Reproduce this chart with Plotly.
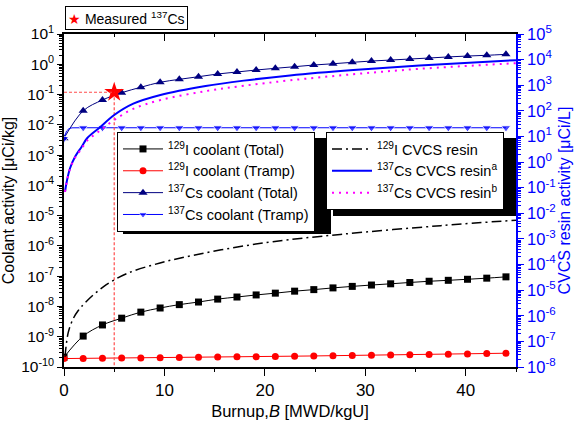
import plotly.graph_objects as go

# ---------------- data ----------------
B_markers = [0.0, 1.91, 3.83, 5.74, 7.65, 9.57, 11.48, 13.39, 15.30, 17.22, 19.13, 21.04,
             22.96, 24.87, 26.78, 28.70, 30.61, 32.52, 34.43, 36.35, 38.26, 40.17, 42.09, 44.00]

I129_total = [2.1e-10, 1.05e-9, 2.45e-9, 4.1e-9, 6.5e-9, 8.9e-9, 1.15e-8, 1.4e-8, 1.75e-8, 2.05e-8,
              2.4e-8, 2.75e-8, 3.2e-8, 3.6e-8, 4.1e-8, 4.6e-8, 5.1e-8, 5.6e-8, 6.2e-8, 6.8e-8,
              7.3e-8, 7.9e-8, 8.6e-8, 9.5e-8]

I129_tramp = [1.9e-10, 1.92e-10, 1.95e-10, 1.97e-10, 2.0e-10, 2.03e-10, 2.06e-10, 2.1e-10, 2.13e-10,
              2.17e-10, 2.2e-10, 2.24e-10, 2.28e-10, 2.32e-10, 2.36e-10, 2.4e-10, 2.45e-10, 2.5e-10,
              2.55e-10, 2.6e-10, 2.65e-10, 2.7e-10, 2.77e-10, 2.85e-10]

Cs_total = [3.6e-3, 0.029, 0.066, 0.115, 0.174, 0.254, 0.318, 0.389, 0.478, 0.556, 0.647, 0.736,
            0.832, 0.946, 1.04, 1.16, 1.28, 1.38, 1.49, 1.61, 1.75, 1.87, 1.98, 2.13]

B_tramp = [0.0, 0.25, 0.5, 0.8, 1.91, 3.83, 5.74, 7.65, 9.57, 11.48, 13.39, 15.30, 17.22, 19.13, 21.04,
           22.96, 24.87, 26.78, 28.70, 30.61, 32.52, 34.43, 36.35, 38.26, 40.17, 42.09, 44.00]
Cs_tramp = [3.5e-3, 6.2e-3, 7.5e-3, 7.95e-3, 8.0e-3, 8.0e-3, 8.0e-3, 8.0e-3, 8.0e-3, 8.0e-3, 8.0e-3,
            8.0e-3, 8.0e-3, 8.0e-3, 8.0e-3, 8.0e-3, 8.0e-3, 8.0e-3, 8.0e-3, 8.0e-3, 8.0e-3, 8.0e-3,
            8.0e-3, 8.0e-3, 8.0e-3, 8.0e-3, 8.0e-3]
Cs_tramp_msize = [8.5, 0, 0, 0, 8.5, 8.5, 8.5, 8.5, 8.5, 8.5, 8.5, 8.5, 8.5, 8.5, 8.5, 8.5, 8.5, 8.5, 8.5,
                  8.5, 8.5, 8.5, 8.5, 8.5, 8.5, 8.5, 8.5]

B_I129_resin = [0.1, 0.43, 0.93, 1.42, 2.09, 3.91, 6.24, 9.56, 12.9, 16.8, 20.8, 27.5, 37.5, 45.0]
I129_resin = [2.5e-8, 2.3e-7, 7.9e-7, 1.6e-6, 3.2e-6, 1.35e-5, 4.4e-5, 1.15e-4, 2.3e-4, 4.5e-4,
              7.8e-4, 1.5e-3, 3.3e-3, 5.4e-3]

B_Cs_resin = [0.1, 0.27, 0.6, 1.1, 1.76, 2.3, 3.5, 5.0, 6.9, 9.6, 14.1, 17.9, 22.5, 28.8, 35.4, 45.0]
Cs_resin_a = [0.069, 0.17, 0.575, 1.62, 3.98, 8.5, 21.5, 69, 191, 417, 933, 1514, 2399, 3890, 5888, 9550]
Cs_resin_b = [0.069, 0.166, 0.55, 1.48, 3.39, 6.9, 16.0, 44, 120, 263, 589, 955, 1549, 2692, 4365, 7244]

measured_B = [5.0]
measured_Cs = [0.119]

x_tickvals = [0, 10, 20, 30, 40]
x_ticktext = ["0", "10", "20", "30", "40"]
left_exp = [-10, -9, -8, -7, -6, -5, -4, -3, -2, -1, 0, 1]
right_exp = [-8, -7, -6, -5, -4, -3, -2, -1, 0, 1, 2, 3, 4, 5]

# ---------------- figure ----------------
FONT = "Liberation Sans, Arial, sans-serif"
fig = go.Figure()

fig.add_trace(go.Scatter(x=B_markers, y=I129_total, mode="lines+markers", name="<sup>129</sup>I coolant (Total)",
                         line=dict(color="black", width=1, shape="spline"),
                         marker=dict(symbol="square", size=7, color="black"), legend="legend2"))
fig.add_trace(go.Scatter(x=B_markers, y=I129_tramp, mode="lines+markers", name="<sup>129</sup>I coolant (Tramp)",
                         line=dict(color="#ff0000", width=1),
                         marker=dict(symbol="circle", size=7, color="#ff0000"), legend="legend2"))
fig.add_trace(go.Scatter(x=B_markers, y=Cs_total, mode="lines+markers", name="<sup>137</sup>Cs coolant (Total)",
                         line=dict(color="#000080", width=1, shape="spline"),
                         marker=dict(symbol="triangle-up", size=8, color="#000080"), legend="legend2"))
fig.add_trace(go.Scatter(x=B_tramp, y=Cs_tramp, mode="lines+markers", name="<sup>137</sup>Cs coolant (Tramp)",
                         line=dict(color="#0000ff", width=1),
                         marker=dict(symbol="triangle-down", size=Cs_tramp_msize, color="#0000ff"),
                         legend="legend2"))

fig.add_trace(go.Scatter(x=B_I129_resin, y=I129_resin, mode="lines", name="<sup>129</sup>I CVCS resin",
                         line=dict(color="black", width=1.5, dash="10px,4px,2px,4px", shape="spline"),
                         yaxis="y2", legend="legend3"))
fig.add_trace(go.Scatter(x=B_Cs_resin, y=Cs_resin_a, mode="lines", name="<sup>137</sup>Cs CVCS resin<sup>a</sup>",
                         line=dict(color="#0000ff", width=2, shape="spline"), yaxis="y2", legend="legend3"))
fig.add_trace(go.Scatter(x=B_Cs_resin, y=Cs_resin_b, mode="lines", name="<sup>137</sup>Cs CVCS resin<sup>b</sup>",
                         line=dict(color="#ff00ff", width=2, dash="2px,5px", shape="spline"), yaxis="y2",
                         legend="legend3"))

# measured point guide lines
fig.add_trace(go.Scatter(x=[0, measured_B[0]], y=[measured_Cs[0], measured_Cs[0]], mode="lines",
                         line=dict(color="#ff4d4d", width=1.2, dash="3px,2px"), showlegend=False,
                         xaxis="x2", hoverinfo="skip"))
fig.add_trace(go.Scatter(x=[measured_B[0], measured_B[0]], y=[measured_Cs[0], 1e-10], mode="lines",
                         line=dict(color="#ff4d4d", width=1.2, dash="3px,2px"), showlegend=False,
                         hoverinfo="skip"))
fig.add_trace(go.Scatter(x=measured_B, y=measured_Cs, mode="markers", name="Measured <sup>137</sup>Cs",
                         marker=dict(symbol="star", size=15, color="#ff0000", line=dict(width=0)),
                         showlegend=False))

W, H = 575, 425
L, R, T, Bm = 64, 59, 34, 58
pw, ph = W - L - R, H - T - Bm


def px2paper(x, y):
    return (x - L) / pw, (H - Bm - y) / ph


shapes = []
for (x0, y0, x1, y1) in [(123, 138, 331, 234), (333, 138, 516, 216)]:
    a0, b1 = px2paper(x0, y0)
    a1, b0 = px2paper(x1, y1)
    shapes.append(dict(type="rect", xref="paper", yref="paper", x0=a0, x1=a1, y0=b0, y1=b1,
                       fillcolor="black", line=dict(width=0), layer="above"))

legend_common = dict(bgcolor="white", bordercolor="black", borderwidth=1, xanchor="left", yanchor="top",
                     font=dict(family=FONT, size=14.5, color="black"), tracegroupgap=0)
lx2, ly2 = px2paper(117, 132)
lx3, ly3 = px2paper(326, 132)
ax1, ay1 = px2paper(65, 6)

fig.add_annotation(xref="paper", yref="paper", x=ax1, y=ay1, xanchor="left", yanchor="top", showarrow=False,
                   text='<span style="color:#ff0000;font-size:14px">★</span> Measured <sup>137</sup>Cs',
                   font=dict(family=FONT, size=14, color="black"), bgcolor="white",
                   bordercolor="black", borderwidth=1, borderpad=2)

fig.update_layout(
    width=W, height=H, margin=dict(l=L, r=R, t=T, b=Bm, autoexpand=False),
    plot_bgcolor="white", paper_bgcolor="white",
    font=dict(family=FONT, size=14, color="black"),
    showlegend=True,
    legend2=dict(x=lx2, y=ly2, itemwidth=40, **legend_common),
    legend3=dict(x=lx3, y=ly3, itemwidth=40, **legend_common),
    shapes=shapes,
    xaxis=dict(range=[0, 45], automargin=False, showgrid=False, zeroline=False, showline=True, linecolor="black",
               linewidth=1.5, ticks="outside", ticklen=7, tickwidth=1, tickcolor="black",
               tickvals=x_tickvals, ticktext=x_ticktext, tickfont=dict(size=17),
               minor=dict(tickvals=[5, 15, 25, 35, 45], ticks="outside", ticklen=3, tickcolor="black", showgrid=False),
               title=dict(text="Burnup,<i>B</i> [MWD/kgU]", font=dict(size=16.5), standoff=6)),
    xaxis2=dict(range=[0, 45], automargin=False, overlaying="x", side="top", showgrid=False, zeroline=False,
                showline=True, linecolor="black", linewidth=1.5, ticks="inside", ticklen=7, tickcolor="black",
                tickvals=x_tickvals, showticklabels=False,
                minor=dict(tickvals=[5, 15, 25, 35, 45], ticks="inside", ticklen=3, tickcolor="black", showgrid=False)),
    yaxis=dict(type="log", range=[-10, 1], automargin=False, showgrid=False, zeroline=False, showline=True,
               linecolor="black", linewidth=1.5, ticks="outside", ticklen=5, tickcolor="black",
               tickvals=[10.0 ** e for e in left_exp], ticktext=[f"10<sup>{e}</sup>" for e in left_exp],
               tickfont=dict(size=15.5),
               minor=dict(dtick="D1", ticks="outside", ticklen=3, tickcolor="black", showgrid=False),
               title=dict(text="Coolant activity [μCi/kg]", font=dict(size=16), standoff=4)),
    yaxis2=dict(type="log", range=[-8, 5], automargin=False, overlaying="y", side="right", showgrid=False,
                zeroline=False, showline=True, linecolor="#0000ff", linewidth=1.5, ticks="outside", ticklen=6,
                tickcolor="#0000ff", tickvals=[10.0 ** e for e in right_exp],
                ticktext=[f"10<sup>{e}</sup>" for e in right_exp],
                tickfont=dict(size=16.5, color="#0000ff"),
                minor=dict(dtick="D1", ticks="outside", ticklen=3, tickcolor="#0000ff", showgrid=False),
                title=dict(text="CVCS resin activity [μCi/L]", font=dict(size=16, color="#0000ff"), standoff=2)),
)

fig.write_html("out.html")
